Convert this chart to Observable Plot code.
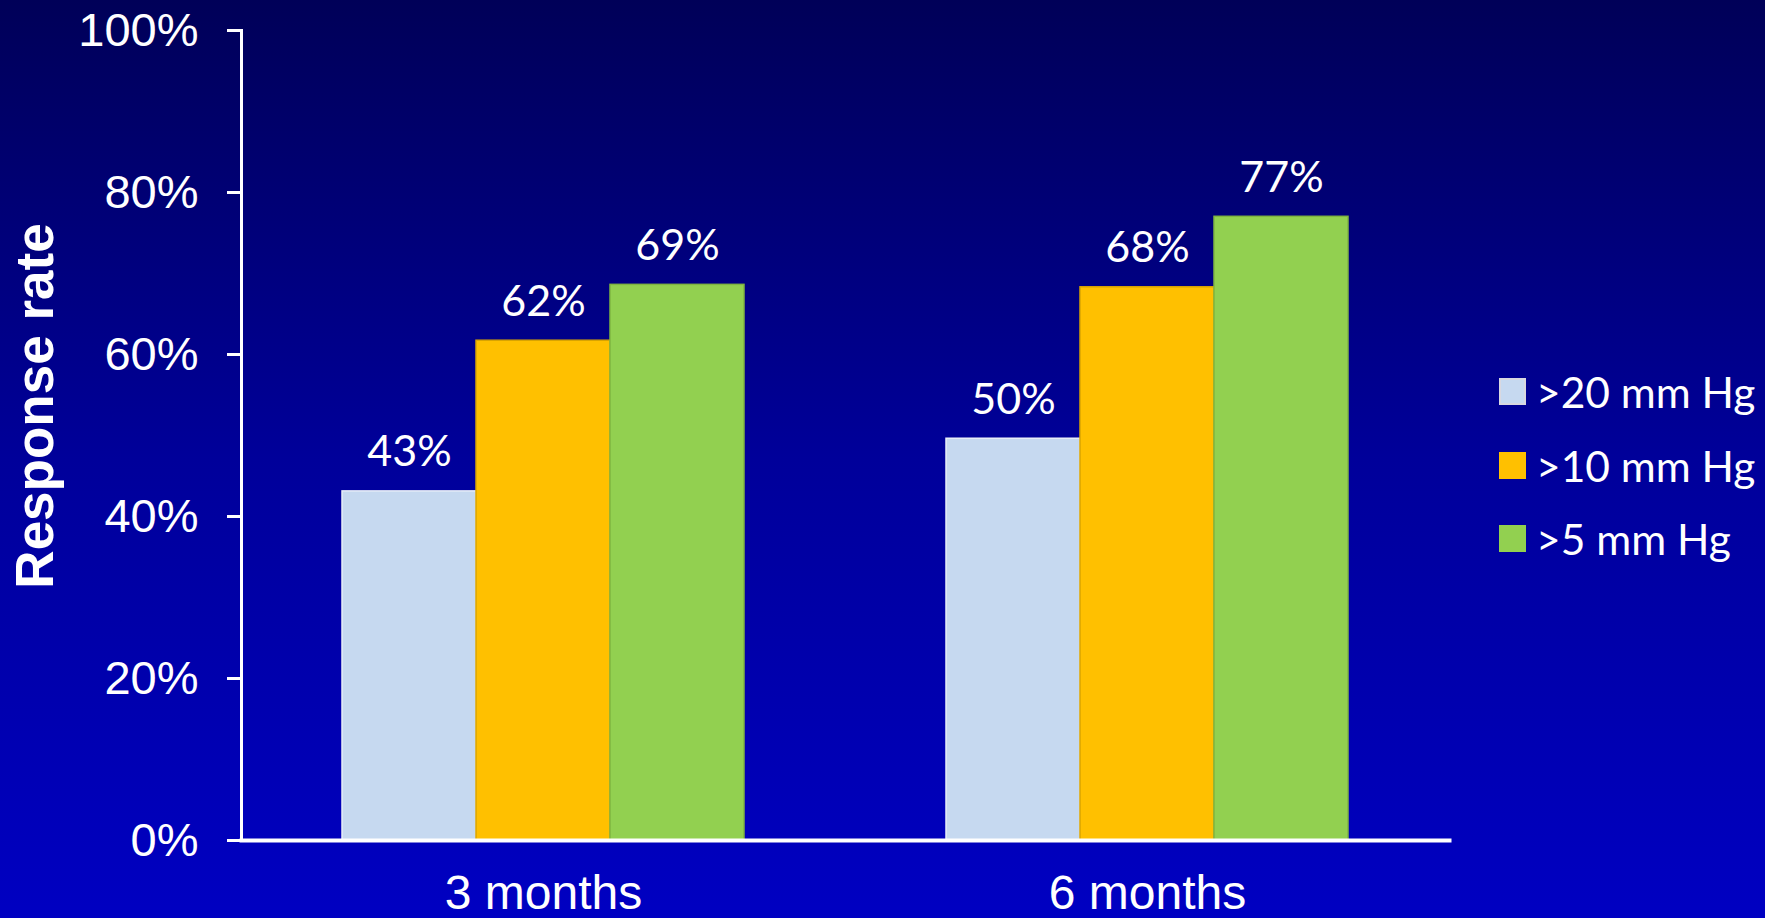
<!DOCTYPE html>
<html>
<head>
<meta charset="utf-8">
<script src="https://cdn.jsdelivr.net/npm/d3@7"></script>
<script src="https://cdn.jsdelivr.net/npm/@observablehq/plot@0.6"></script>
<style>
  html, body { margin: 0; padding: 0; }
  body {
    width: 1765px; height: 918px; overflow: hidden; position: relative;
    background: linear-gradient(to bottom, #000058 0%, #00009a 50%, #0000c2 100%);
  }
  #chart { position: absolute; left: 0; top: 0; }
  #ylabel {
    position: absolute; left: 34px; top: 406px;
    transform: translate(-50%, -50%) rotate(-90deg);
    font-family: "Liberation Sans", Arial, sans-serif; font-weight: bold;
    font-size: 53px; color: white; white-space: nowrap;
  }
  #legend { position: absolute; left: 1499px; top: 355px; font-family: Lato, "Open Sans", sans-serif; color: white; font-size: 42.5px; }
  .item { display: flex; align-items: center; height: 73.5px; margin-top: 0; }
  .sw { width: 27px; height: 27px; box-sizing: border-box; margin-right: 10px; }
</style>
</head>
<body>
<div id="chart"></div>
<div id="ylabel">Response rate</div>
<div id="legend"></div>
<script>
const periods = ["3 months", "6 months"];
const series = [">20 mm Hg", ">10 mm Hg", ">5 mm Hg"];
const colors = ["#c6d9f0", "#ffc000", "#92d050"];
const strokes = ["#e8eef8", "#d9a400", "#7fb540"];
const values3 = [0.431, 0.617, 0.686];
const values6 = [0.496, 0.683, 0.770];
const labels3 = ["43%", "62%", "69%"];
const labels6 = ["50%", "68%", "77%"];
const yTicks = [0, 0.2, 0.4, 0.6, 0.8, 1.0];

const data = [];
series.forEach((s, i) => {
  data.push({period: periods[0], series: s, value: values3[i], label: labels3[i]});
  data.push({period: periods[1], series: s, value: values6[i], label: labels6[i]});
});

const plot = Plot.plot({
  width: 1765,
  height: 918,
  marginLeft: 240,
  marginRight: 316,
  marginTop: 30,
  marginBottom: 78,
  style: {background: "transparent", color: "white", overflow: "visible"},
  fx: {domain: periods, padding: 0, label: null},
  x: {domain: series, paddingInner: 0, paddingOuter: 0.75, axis: null},
  y: {domain: [0, 1], label: null},
  color: {domain: series, range: colors},
  marks: [
    Plot.barY(data, {fx: "period", x: "series", y: "value", fill: "series",
      stroke: d => strokes[series.indexOf(d.series)], strokeWidth: 1.5}),
    Plot.text(data, {fx: "period", x: "series", y: "value", text: "label",
      lineAnchor: "bottom", dy: -25, fill: "white", fontSize: 43,
      fontFamily: "Lato, 'Open Sans', sans-serif"}),
    Plot.axisY({ticks: yTicks, tickFormat: d => Math.round(d * 100) + "%", tickSize: 14, tickPadding: 29,
      strokeWidth: 3, fontSize: 47, fontFamily: "'Liberation Sans', Arial, sans-serif", label: null}),
    Plot.frame({anchor: "left", stroke: "white", strokeWidth: 3, facet: "super"}),
    Plot.axisFx({anchor: "bottom", tickSize: 0, tickPadding: 34, fontSize: 48,
      fontFamily: "'Liberation Sans', Arial, sans-serif", label: null}),
    Plot.frame({anchor: "bottom", stroke: "white", strokeWidth: 4, facet: "super"})
  ]
});
document.getElementById("chart").appendChild(plot);

const legend = document.getElementById("legend");
series.forEach((s, i) => {
  const item = document.createElement("div");
  item.className = "item";
  const sw = document.createElement("div");
  sw.className = "sw";
  sw.style.background = colors[i];
  if (i === 0) sw.style.border = "2px solid #d8d8e0";
  const t = document.createElement("span");
  t.textContent = s;
  item.appendChild(sw); item.appendChild(t);
  legend.appendChild(item);
});
</script>
</body>
</html>
